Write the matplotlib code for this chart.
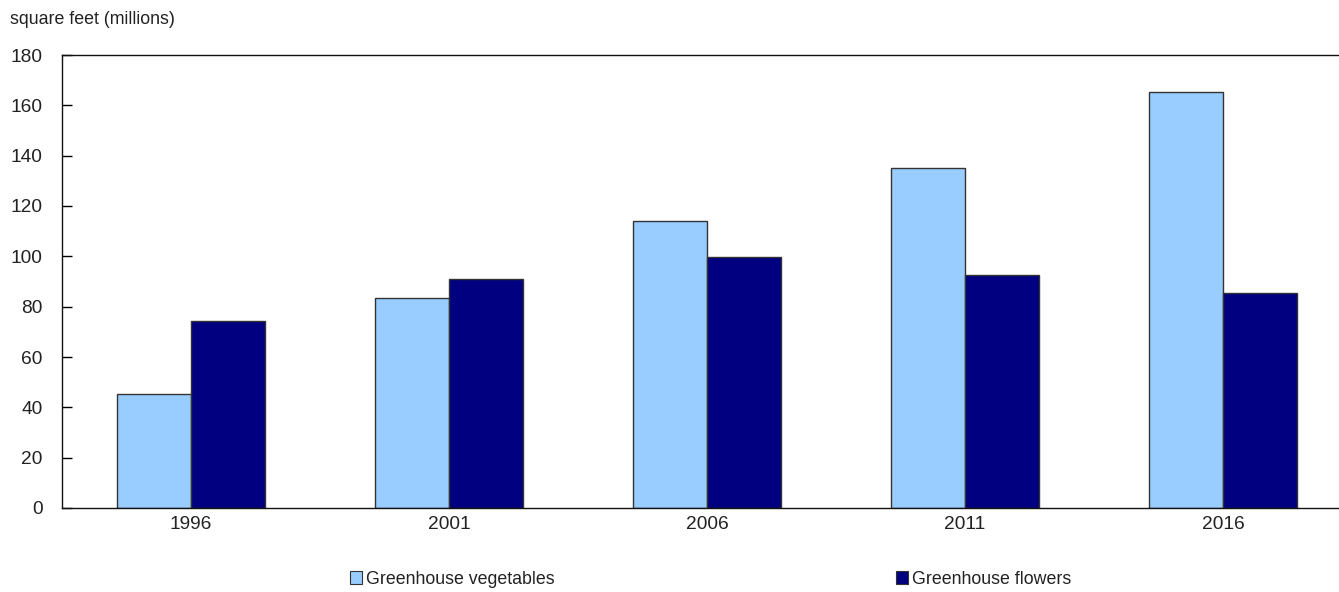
import numpy as np
import matplotlib
matplotlib.use("Agg")
from matplotlib import pyplot as plt
from matplotlib.patches import Patch

plt.rcParams['font.family'] = ['Liberation Sans', 'DejaVu Sans']

# data: greenhouse area, square feet (millions)
years = ['1996', '2001', '2006', '2011', '2016']
vegetables = [45.3, 83.4, 114.0, 135.1, 165.3]
flowers = [74.3, 91.0, 99.8, 92.6, 85.4]

veg_color = '#99ccff'
flower_color = '#000080'
text_color = '#222222'

fig = plt.figure(figsize=(13.39, 5.92), dpi=100)
# plot area runs slightly past the right edge of the figure
ax = fig.add_axes([62 / 1339, 84 / 592, 1290 / 1339, 453 / 592])

x = np.arange(len(years))
w = 0.285
ax.bar(x - w / 2, vegetables, w, color=veg_color, edgecolor='#333333', linewidth=1.0)
ax.bar(x + w / 2, flowers, w, color=flower_color, edgecolor='#333333', linewidth=1.0)

ax.set_xlim(-0.5, len(years) - 0.5)
ax.set_ylim(0, 180)
ax.set_yticks(range(0, 181, 20))
ax.set_xticks(x)
ax.set_xticklabels(years)

ax.tick_params(axis='y', direction='in', length=7, width=1, labelsize=13.8,
               labelcolor=text_color, pad=14)
ax.tick_params(axis='x', length=0, labelsize=13.8, labelcolor=text_color, pad=6)
for s in ['left', 'bottom', 'top']:
    ax.spines[s].set_color('#111111')
    ax.spines[s].set_linewidth(1.0)
ax.spines['right'].set_visible(False)

fig.text(10 / 1339, 1 - 20 / 592, 'square feet (millions)', fontsize=12.8,
         color=text_color, va='center', ha='left')

# legend entries
h1 = [Patch(facecolor=veg_color, edgecolor='#333333', linewidth=0.8)]
h2 = [Patch(facecolor=flower_color, edgecolor='#333333', linewidth=0.8)]
for handles, label, xpos in [(h1, 'Greenhouse vegetables', 350 / 1339),
                             (h2, 'Greenhouse flowers', 896 / 1339)]:
    fig.legend(handles, [label], loc='center left', bbox_to_anchor=(xpos, 1 - 579 / 592),
               frameon=False, fontsize=12.8, handlelength=0.7, handleheight=0.7,
               handletextpad=0.2, borderpad=0, borderaxespad=0, labelcolor=text_color)

fig.savefig('out.png', dpi=100)
